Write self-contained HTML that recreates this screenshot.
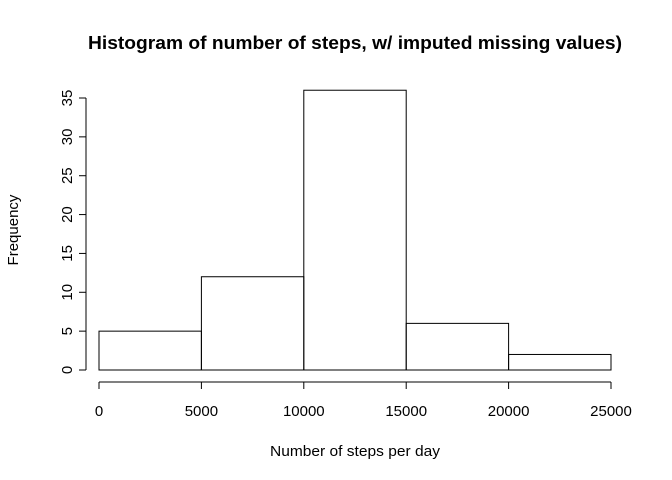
<!DOCTYPE html>
<html><head><meta charset="utf-8"><style>body{margin:0;background:#fff}svg{display:block;font-family:"Liberation Sans",Arial,sans-serif}</style></head>
<body>
<svg id="c" width="672" height="480">
<text x="355" y="49" text-anchor="middle" font-size="18" font-weight="bold" textLength="534" lengthAdjust="spacingAndGlyphs">Histogram of number of steps, w/ imputed missing values)</text>
<text x="355" y="456" text-anchor="middle" font-size="15" textLength="170" lengthAdjust="spacingAndGlyphs">Number of steps per day</text>
<text transform="translate(18,230) rotate(-90)" text-anchor="middle" font-size="15">Frequency</text>
<g id="bars"></g><g id="xa"></g><g id="ya"></g>
</svg>
<script>
const breaks=[0,5000,10000,15000,20000,25000];
const counts=[5,12,36,6,2];
const xTicks=[0,5000,10000,15000,20000,25000];
const yTicks=[0,5,10,15,20,25,30,35];
const NS="http://www.w3.org/2000/svg";
const x=v=>99+v*(512/25000), y=v=>370-v*(272/35);
function mk(t,a,p){const e=document.createElementNS(NS,t);for(const k in a)e.setAttribute(k,a[k]);p.appendChild(e);return e;}
const B=document.getElementById('bars');
counts.forEach((c,i)=>{const r=mk('rect',{x:x(breaks[i]),y:y(c),width:x(breaks[i+1])-x(breaks[i]),height:y(0)-y(c),fill:'none',stroke:'#000','stroke-width':1},B);

});
const XA=document.getElementById('xa');
mk('line',{x1:x(xTicks[0]),x2:x(xTicks[xTicks.length-1]),y1:382,y2:382,stroke:'#000'},XA);
xTicks.forEach(t=>{mk('line',{x1:x(t),x2:x(t),y1:382,y2:389,stroke:'#000'},XA);
const tx=mk('text',{x:x(t),y:416,'text-anchor':'middle','font-size':15},XA);tx.textContent=t;

});
const YA=document.getElementById('ya');
mk('line',{x1:86,x2:86,y1:y(yTicks[0]),y2:y(yTicks[yTicks.length-1]),stroke:'#000'},YA);
yTicks.forEach(t=>{mk('line',{x1:79,x2:86,y1:y(t),y2:y(t),stroke:'#000'},YA);
const tx=mk('text',{transform:`translate(72,${y(t)}) rotate(-90)`,'text-anchor':'middle','font-size':15},YA);tx.textContent=t;

});
</script>
</body></html>
